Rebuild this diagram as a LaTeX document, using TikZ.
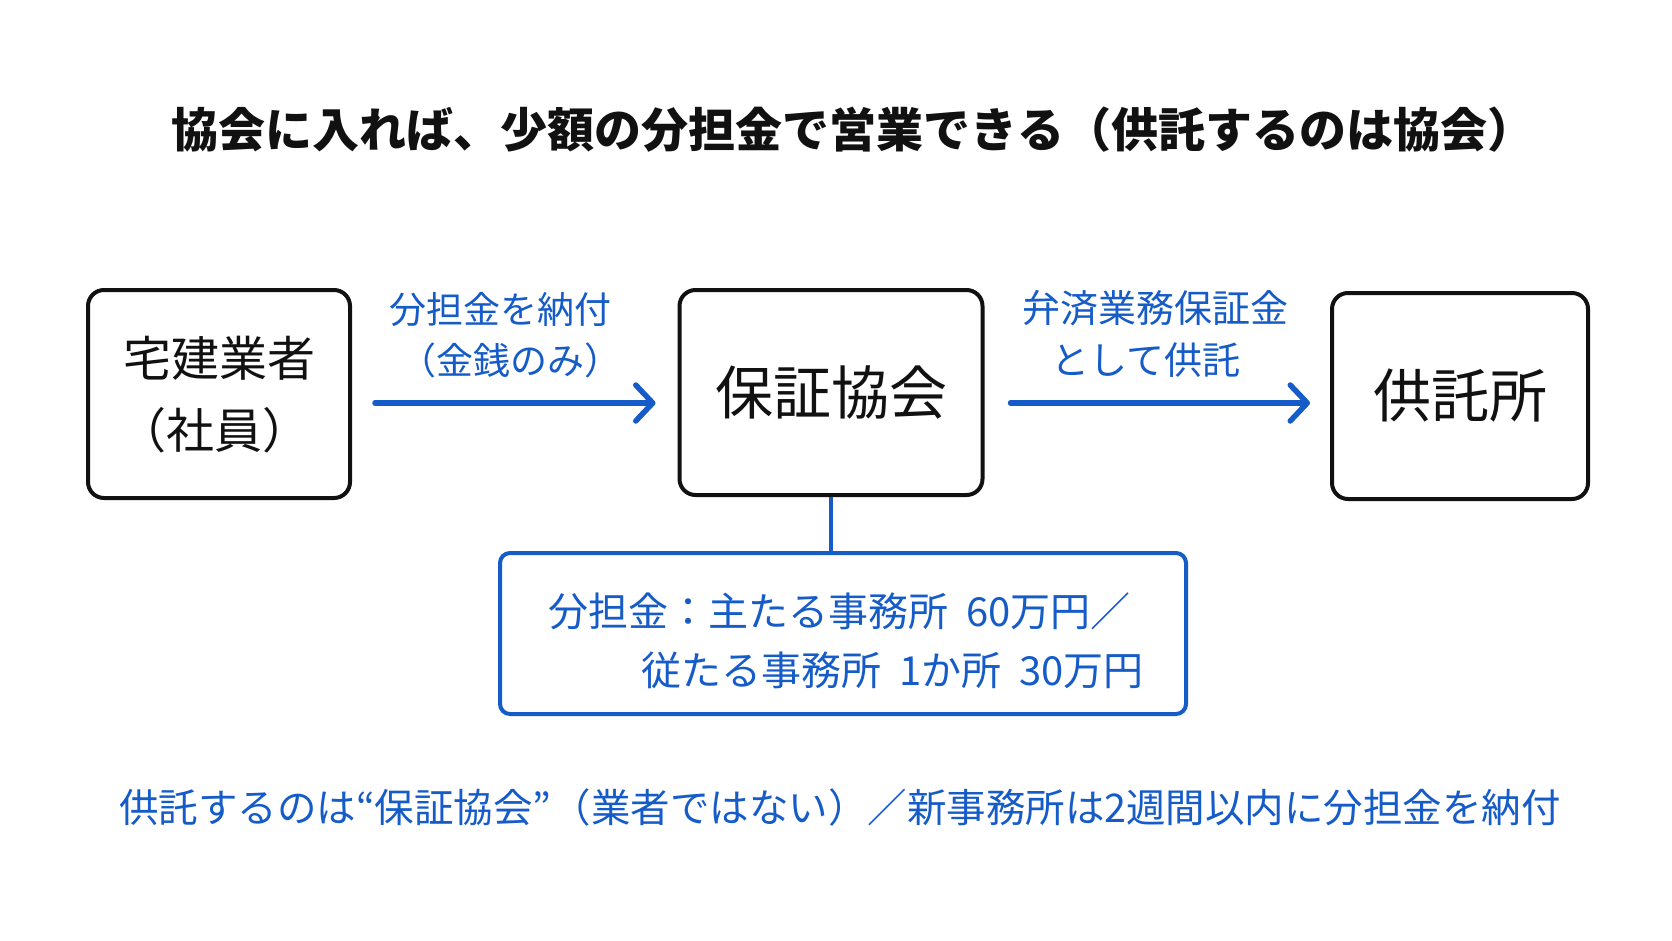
\documentclass[tikz,border=0pt]{standalone}
\usepackage{fontspec}
\setmainfont{Noto Sans CJK JP}
\usetikzlibrary{arrows.meta}
\definecolor{ink}{RGB}{17,17,17}
\definecolor{blu}{RGB}{22,92,200}
\tikzset{
  box/.style={draw=ink, line width=4pt, rounded corners=16pt, inner sep=0pt},
  bluebox/.style={draw=blu, line width=4pt, rounded corners=10pt, inner sep=0pt},
  arr/.style={draw=blu, line width=5.5pt, line cap=round, line join=round,
    -{Straight Barb[length=17pt,width=36pt,line width=5.5pt,round]}},
  link/.style={draw=blu, line width=4pt},
  bigtxt/.style={text=ink, inner sep=0pt},
  bluetxt/.style={text=blu, inner sep=0pt},
}
\begin{document}
\begin{tikzpicture}[x=1pt,y=-1pt]
\useasboundingbox[fill=white] (0,0) rectangle (1672,941);

% title
\node[bigtxt, font=\fontsize{47pt}{50pt}\selectfont\bfseries] (title) at (853,130) {協会に入れば、少額の分担金で営業できる（供託するのは協会）};

% boxes
\node[box, minimum width=262pt, minimum height=208pt] (gyosha) at (219,394) {};
\node[bigtxt, font=\fontsize{48pt}{52pt}\selectfont] (g1) at (219,358) {宅建業者};
\node[bigtxt, font=\fontsize{48pt}{52pt}\selectfont] (g2) at (214,430) {（社員）};

\node[box, minimum width=303pt, minimum height=205pt] (kyokai) at (831,392.5) {};
\node[bigtxt, font=\fontsize{58pt}{60pt}\selectfont] (k1) at (831,393) {保証協会};

\node[box, minimum width=256pt, minimum height=206pt] (kyotakusho) at (1460,396) {};
\node[bigtxt, font=\fontsize{58pt}{60pt}\selectfont] (s1) at (1460,396) {供託所};

% arrows
\draw[arr, shorten <=23pt, shorten >=22pt] ([yshift=-9pt]gyosha.east) -- ([yshift=-9pt]gyosha.east -| kyokai.west);
\draw[arr, shorten <=26pt, shorten >=20pt] ([yshift=-10.5pt]kyokai.east) -- ([yshift=-10.5pt]kyokai.east -| kyotakusho.west);

% arrow labels
\node[bluetxt, font=\fontsize{37pt}{40pt}\selectfont] (l1a) at (500,310) {分担金を納付};
\node[bluetxt, font=\fontsize{37pt}{40pt}\selectfont] (l1b) at (510,360) {（金銭のみ）};
\node[bluetxt, font=\fontsize{38pt}{40pt}\selectfont] (l2a) at (1155,308) {弁済業務保証金};
\node[bluetxt, font=\fontsize{38pt}{40pt}\selectfont] (l2b) at (1146,360) {として供託};

% bottom box
\node[bluebox, minimum width=686pt, minimum height=161pt] (futan) at (843,633.5) {};
\draw[link] (kyokai.south) -- (kyokai.south |- futan.north);
\node[bluetxt, anchor=west, font=\fontsize{40pt}{42pt}\selectfont] (f1) at (548,611) {分担金：主たる事務所\hspace{0.45em}60万円／};
\node[bluetxt, anchor=west, font=\fontsize{40pt}{42pt}\selectfont] (f2) at (641,670) {従たる事務所\hspace{0.45em}1か所\hspace{0.45em}30万円};

% footer
\node[bluetxt, font=\fontsize{39.5pt}{42pt}\selectfont] (foot) at (840,807) {供託するのは“保証協会”（業者ではない）／新事務所は2週間以内に分担金を納付};
\end{tikzpicture}
\end{document}
